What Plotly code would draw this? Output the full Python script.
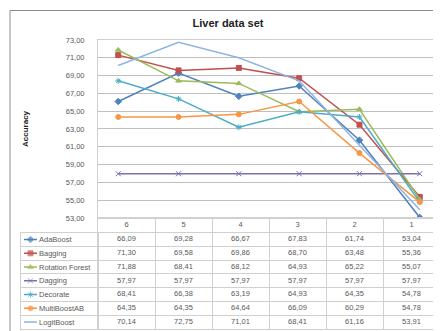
import plotly.graph_objects as go

categories = ["6", "5", "4", "3", "2", "1"]
series_names = ["AdaBoost", "Bagging", "Rotation Forest", "Dagging", "Decorate", "MultiBoostAB", "LogitBoost"]
ada = [66.09, 69.28, 66.67, 67.83, 61.74, 53.04]
bagging = [71.30, 69.58, 69.86, 68.70, 63.48, 55.36]
rotation = [71.88, 68.41, 68.12, 64.93, 65.22, 55.07]
dagging = [57.97, 57.97, 57.97, 57.97, 57.97, 57.97]
decorate = [68.41, 66.38, 63.19, 64.93, 64.35, 54.78]
multiboost = [64.35, 64.35, 64.64, 66.09, 60.29, 54.78]
logitboost = [70.14, 72.75, 71.01, 68.41, 61.16, 53.91]
y_ticks = [53, 55, 57, 59, 61, 63, 65, 67, 69, 71, 73]

series_values = [ada, bagging, rotation, dagging, decorate, multiboost, logitboost]
colors = ["#4F81BD", "#C0504D", "#9BBB59", "#7E6FB0", "#4BACC6", "#F79646", "#8EB4E3"]
symbols = ["diamond", "square", "triangle-up", "x-thin-open", "asterisk-open", "circle", None]

FONT = "Liberation Sans"
GRAY = "#595959"
LINE = "#D0D0D0"
FS = 7.5

W, H = 441, 331
ML, MR, MT, MB = 13, 9, 32, 5
PW, PH = W - ML - MR, H - MT - MB
LEG_W = 90 - ML
HEADER_H = 15
ROW_H = 14
n_rows = len(series_names)
n_cols = len(categories)
table_h = HEADER_H + ROW_H * n_rows

def fmt(v):
    return f"{v:.2f}".replace(".", ",")

fig = go.Figure()

for name, vals, col, sym in zip(series_names, series_values, colors, symbols):
    if sym:
        fig.add_trace(go.Scatter(
            x=categories, y=vals, name=name, mode="lines+markers",
            line=dict(color=col, width=1.5),
            marker=dict(size=5, symbol=sym, color=col, line=dict(width=1, color=col)),
            xaxis="x", yaxis="y", showlegend=False))
    else:
        fig.add_trace(go.Scatter(
            x=categories, y=vals, name=name, mode="lines",
            line=dict(color=col, width=1.5), xaxis="x", yaxis="y", showlegend=False))

# ---- data table (drawn on its own axes) ----
fig.add_trace(go.Scatter(
    x=[c + 0.5 for c in range(n_cols)], y=[HEADER_H / 2] * n_cols,
    text=categories, mode="text", textposition="middle center",
    textfont=dict(family=FONT, size=FS, color=GRAY),
    xaxis="x3", yaxis="y3", showlegend=False, hoverinfo="skip", cliponaxis=False))
tx, ty, tt = [], [], []
for r, vals in enumerate(series_values):
    for c, v in enumerate(vals):
        tx.append(c + 0.5)
        ty.append(HEADER_H + ROW_H * (r + 0.5))
        tt.append(fmt(v))
fig.add_trace(go.Scatter(
    x=tx, y=ty, text=tt, mode="text", textposition="middle center",
    textfont=dict(family=FONT, size=FS, color=GRAY),
    xaxis="x3", yaxis="y3", showlegend=False, hoverinfo="skip", cliponaxis=False))

# legend keys in the first column
for i, (name, col, sym) in enumerate(zip(series_names, colors, symbols)):
    if sym:
        fig.add_trace(go.Scatter(
            x=[3, 9.5, 16], y=[i + 0.5] * 3, mode="lines+markers",
            line=dict(color=col, width=1.5),
            marker=dict(size=[0, 5, 0], symbol=sym, color=col, line=dict(width=1, color=col)),
            xaxis="x2", yaxis="y2", showlegend=False, hoverinfo="skip"))
    else:
        fig.add_trace(go.Scatter(
            x=[3, 16], y=[i + 0.5] * 2, mode="lines",
            line=dict(color=col, width=1.5),
            xaxis="x2", yaxis="y2", showlegend=False, hoverinfo="skip"))

annotations = [dict(text=name, x=16, y=i + 0.5, xref="x2", yref="y2",
                    xanchor="left", yanchor="middle", showarrow=False,
                    font=dict(family=FONT, size=FS, color=GRAY))
               for i, name in enumerate(series_names)]
annotations.append(dict(text="<b>Accuracy</b>", textangle=-90, x=(18 - ML) / PW, xref="paper",
                        y=(table_h + (PH - table_h) / 2) / PH, yref="paper",
                        xanchor="center", yanchor="middle", showarrow=False,
                        font=dict(family=FONT, size=8, color="#222222")))

row_bounds = [HEADER_H + ROW_H * k for k in range(n_rows + 1)]

fig.update_layout(
    width=W, height=H,
    margin=dict(l=ML, r=MR, t=MT, b=MB),
    paper_bgcolor="white", plot_bgcolor="white",
    showlegend=False,
    title=dict(text="<b>Liver data set</b>", x=(220 - ML) / PW, xref="paper", xanchor="center",
               y=1 - 15 / H, yref="container", yanchor="middle",
               font=dict(family=FONT, size=11, color="#222222")),
    xaxis=dict(domain=[LEG_W / PW, 1], type="category", showticklabels=False,
               showgrid=False, zeroline=False, showline=True, linecolor=LINE,
               mirror=True, ticks=""),
    yaxis=dict(domain=[table_h / PH, 1], range=[53, 73],
               tickvals=y_ticks, ticktext=[fmt(v) for v in y_ticks],
               showgrid=True, gridcolor="#BFBFBF", gridwidth=1,
               zeroline=False, showline=True, linecolor=LINE, mirror=True,
               ticks="", ticklabelstandoff=11,
               tickfont=dict(family=FONT, size=FS, color=GRAY)),
    xaxis2=dict(domain=[0, LEG_W / PW], range=[0, LEG_W], anchor="y2",
                showgrid=False, zeroline=False, showticklabels=False, ticks="",
                showline=True, linecolor=LINE, mirror=True, fixedrange=True),
    yaxis2=dict(domain=[0, (ROW_H * n_rows) / PH], range=[n_rows, 0],
                anchor="x2", tickvals=list(range(1, n_rows)), showticklabels=False,
                showgrid=True, gridcolor=LINE, zeroline=False, ticks="",
                showline=True, linecolor=LINE, mirror=True, fixedrange=True),
    xaxis3=dict(domain=[LEG_W / PW, 1], range=[0, n_cols], anchor="y3",
                tickvals=list(range(1, n_cols)), showticklabels=False,
                showgrid=True, gridcolor=LINE, zeroline=False, ticks="",
                showline=True, linecolor=LINE, mirror=True, fixedrange=True),
    yaxis3=dict(domain=[0, table_h / PH], range=[table_h, 0], anchor="x3",
                tickvals=row_bounds[:-1], showticklabels=False,
                showgrid=True, gridcolor=LINE, zeroline=False, ticks="",
                showline=True, linecolor=LINE, mirror=True, fixedrange=True),
    annotations=annotations,
    shapes=[dict(type="rect", xref="paper", yref="paper",
                 x0=(2 - ML) / PW, x1=(439 - ML) / PW,
                 y0=(PH + MT - 329) / PH, y1=(PH + MT - 2) / PH,
                 line=dict(color="#8C8C8C", width=1), fillcolor="rgba(0,0,0,0)", layer="below")],
)

fig.write_html("out.html")
